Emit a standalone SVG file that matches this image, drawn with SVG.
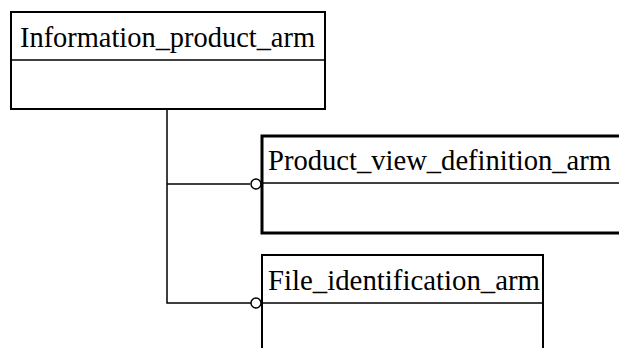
<svg xmlns="http://www.w3.org/2000/svg" width="619" height="348" viewBox="0 0 619 348">
<style>
.box{fill:#fff;stroke:#000}
.t{font-family:"Liberation Serif","Times New Roman",serif;font-size:30px;fill:#000}
.c{fill:none;stroke:#000;stroke-width:1.5}
.o{fill:#fff;stroke:#000;stroke-width:1.5}
</style>
<rect width="619" height="348" fill="#fff"/>
<g id="connectors">
<polyline class="c" points="167,109 167,303 251,303"/>
<line class="c" x1="167" y1="184" x2="250" y2="184"/>
<circle class="o" cx="256" cy="184" r="5"/>
<circle class="o" cx="256" cy="303" r="5"/>
</g>
<g id="information_product_arm">
<rect class="box" x="11" y="12" width="314" height="97" stroke-width="2"/>
<line x1="11" y1="60" x2="325" y2="60" stroke="#000" stroke-width="1.5"/>
<text class="t" x="20" y="47" textLength="295" lengthAdjust="spacingAndGlyphs">Information_product_arm</text>
</g>
<g id="product_view_definition_arm">
<rect class="box" x="262" y="136" width="370" height="97" stroke-width="3"/>
<line x1="262" y1="183" x2="619" y2="183" stroke="#000" stroke-width="1.5"/>
<text class="t" x="268" y="170" textLength="343" lengthAdjust="spacingAndGlyphs">Product_view_definition_arm</text>
</g>
<g id="file_identification_arm">
<rect class="box" x="262" y="255" width="281" height="110" stroke-width="2"/>
<line x1="262" y1="303" x2="543" y2="303" stroke="#000" stroke-width="1.5"/>
<text class="t" x="268" y="290" textLength="272" lengthAdjust="spacingAndGlyphs">File_identification_arm</text>
</g>
</svg>
